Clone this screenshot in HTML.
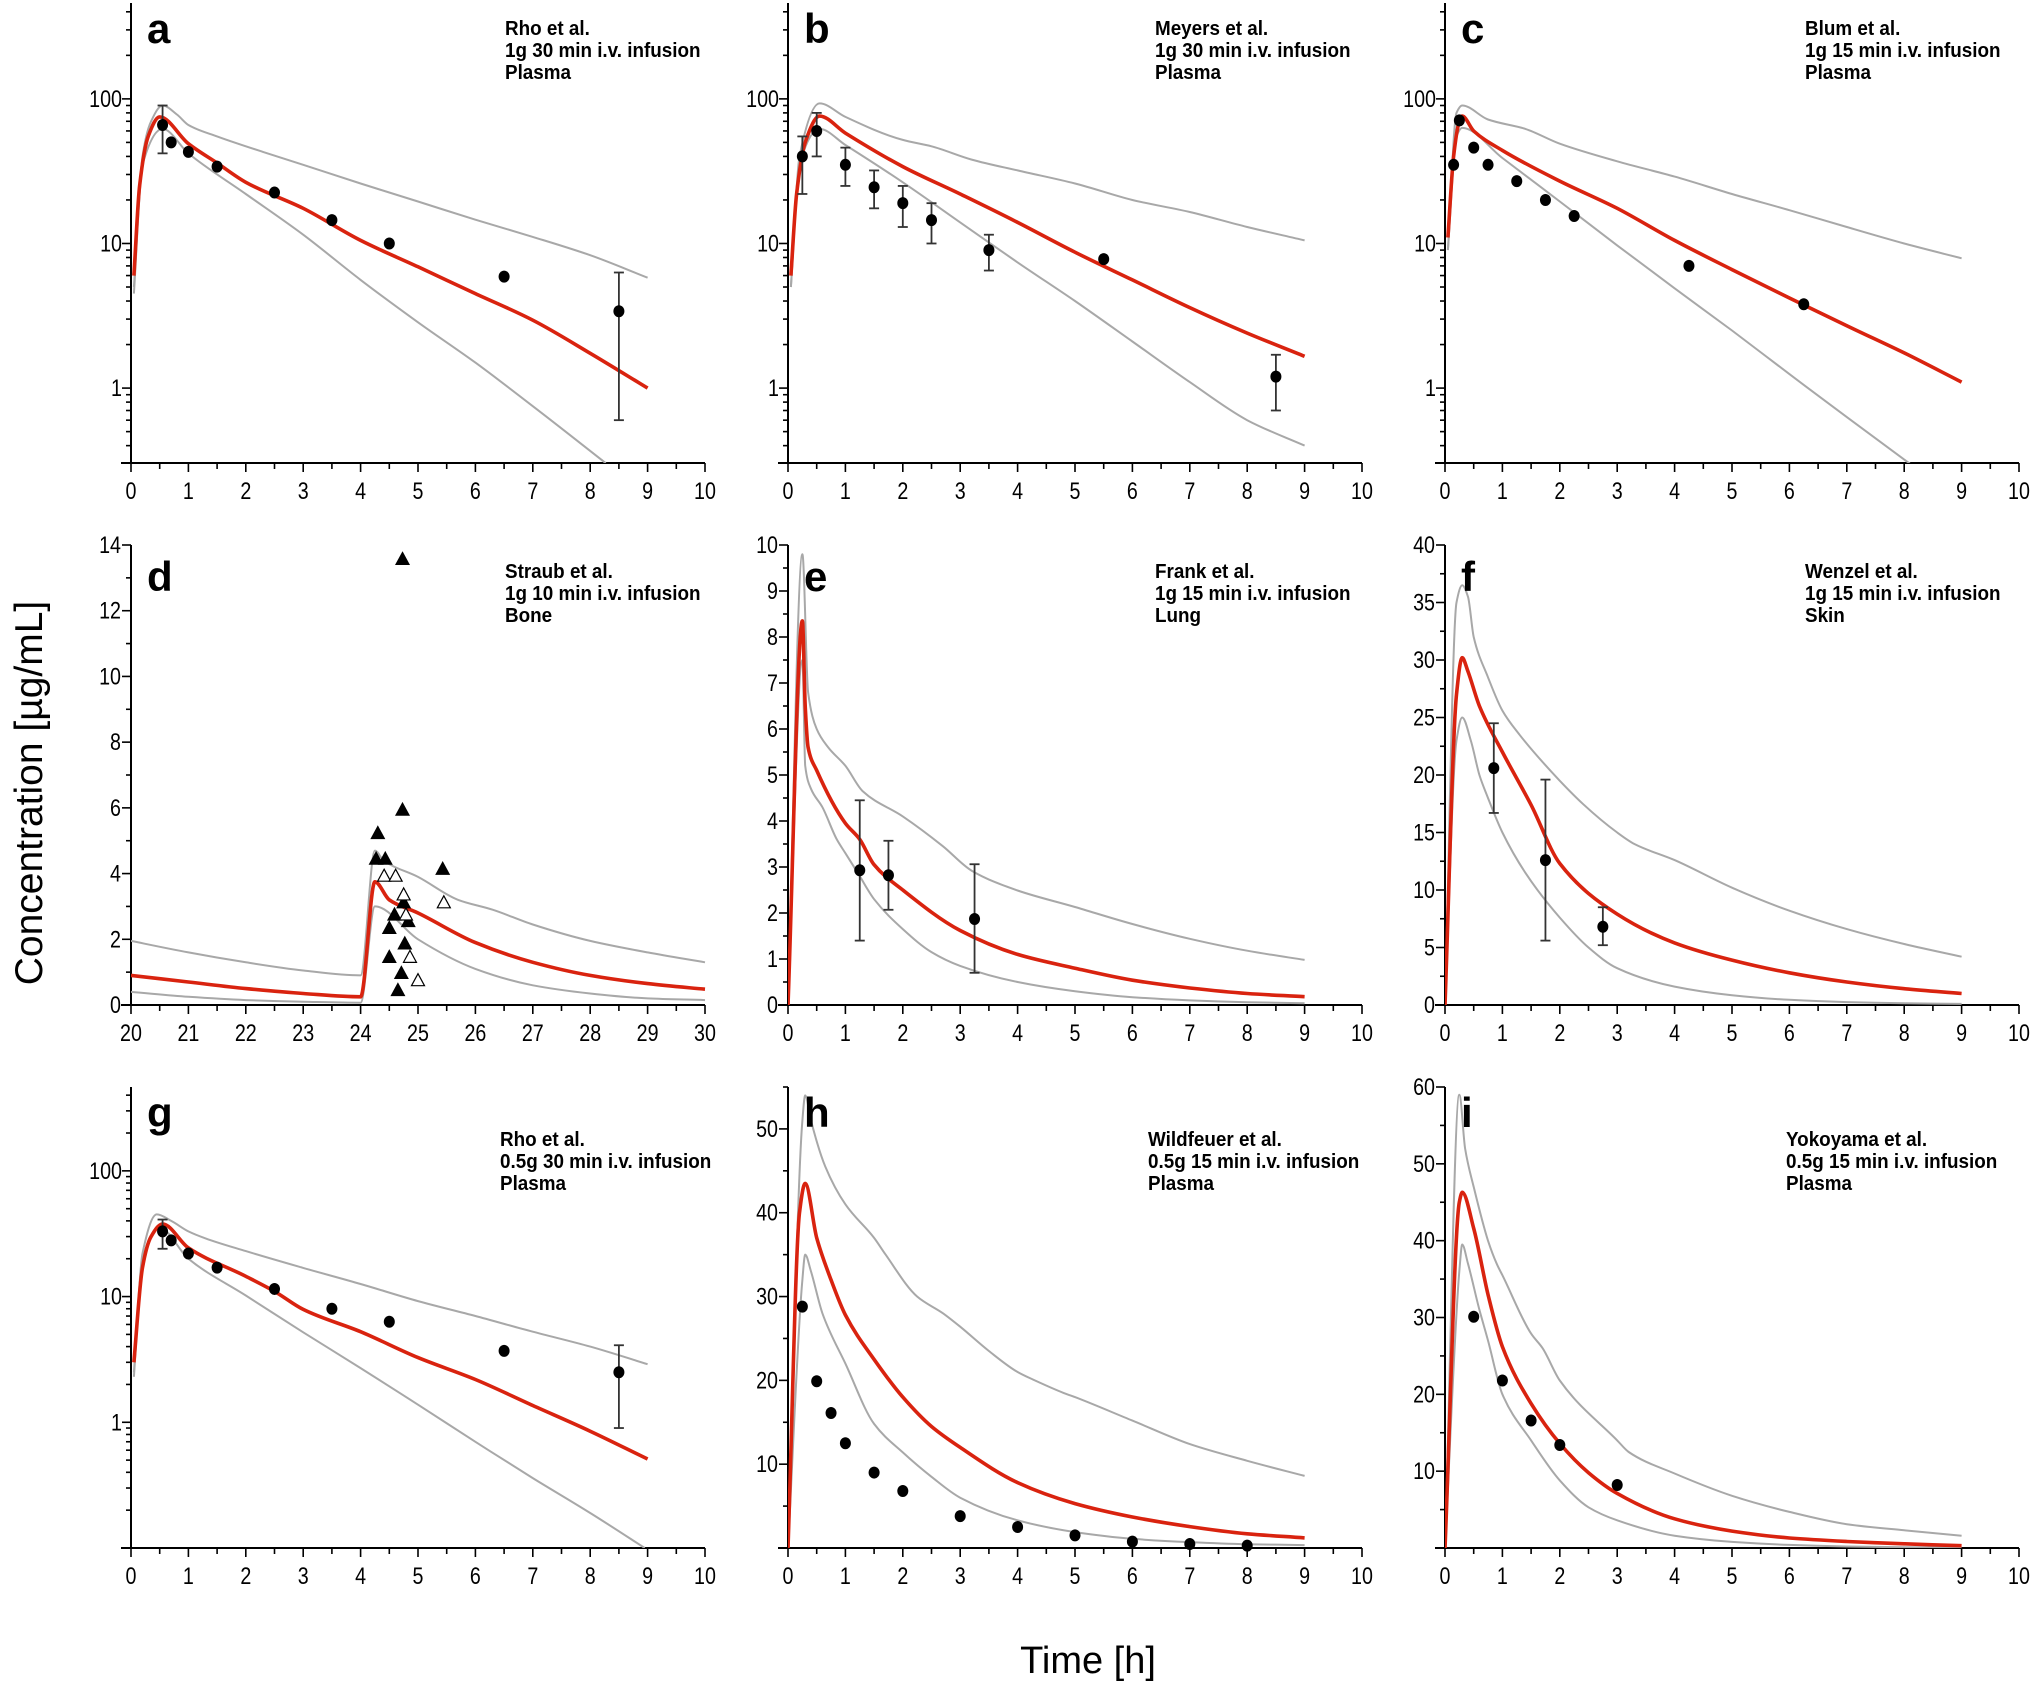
<!DOCTYPE html>
<html><head><meta charset="utf-8"><style>
html,body{margin:0;padding:0;background:#fff;}
svg{display:block;}
</style></head><body>
<svg id="fig" width="2030" height="1685" viewBox="0 0 2030 1685" xmlns="http://www.w3.org/2000/svg">
<rect width="2030" height="1685" fill="#fff"/>
<text transform="translate(42,793) rotate(-90)" text-anchor="middle" font-family="'Liberation Sans',sans-serif" font-size="39">Concentration [µg/mL]</text>
<text x="1088" y="1673" text-anchor="middle" font-family="'Liberation Sans',sans-serif" font-size="38">Time [h]</text>
</svg>
<script>
// ---- panel a ----
const aRed=[[0.05,6],[0.15,25],[0.3,55],[0.5,75],[1,49],[1.5,36],[2,26.5],[3,17.5],[4,10.5],[5,6.9],[6,4.5],[7,2.95],[8,1.74],[9,1.0]];
const aUp=[[0.05,5],[0.2,40],[0.35,70],[0.55,90],[0.8,78],[1,66],[1.5,55],[1.8,50],[2.3,43],[3,35],[4,26],[5,19.5],[6,14.6],[7,11.1],[8,8.3],[9,5.8]];
const aLow=[[0.05,4.5],[0.2,35],[0.55,62],[1,42],[2,22],[3,11.5],[4,5.6],[5,2.85],[6,1.5],[7,0.75],[8.27,0.303]];
const aObs=[[0.55,66,42,90],[0.7,50],[1,43],[1.5,34],[2.5,22.5],[3.5,14.5],[4.5,10],[6.5,5.9],[8.5,3.4,0.6,6.3]];
// ---- panel b ----
const bRed=[[0.05,6],[0.15,22],[0.3,50],[0.55,76],[1,58],[2,34],[3,22],[4,14],[5,8.7],[6,5.6],[7,3.6],[8,2.4],[9,1.66]];
const bUp=[[0.05,5],[0.2,40],[0.55,93],[1,75],[2,52],[2.5,47],[3.2,38],[4,32],[5,26],[6,20],[7,16.5],[8,13],[9,10.5]];
const bLow=[[0.05,5],[0.2,35],[0.55,62],[1,48],[2,26.5],[3,14],[4,7.4],[5,4],[6,2.1],[7,1.1],[8,0.6],[9,0.4]];
const bObs=[[0.25,40,22,55],[0.5,60,40,80],[1,35,25,46],[1.5,24.5,17.5,32],[2,19,13,25],[2.5,14.5,10,19],[3.5,9,6.5,11.5],[5.5,7.8],[8.5,1.2,0.7,1.7]];
// ---- panel c ----
const cRed=[[0.05,11],[0.15,40],[0.25,70],[0.3,76],[0.5,60],[1,44],[2,27],[3,17.5],[4,10.5],[5,6.6],[6,4.2],[7,2.7],[8,1.75],[9,1.1]];
const cUp=[[0.05,9],[0.2,80],[0.3,90],[0.75,72],[1.4,62],[2,49],[3,37],[4,29],[5,22],[6,17],[7,13],[8,10],[9,7.9]];
const cLow=[[0.05,9],[0.2,55],[0.3,63],[1,39],[2,19.5],[3,9.7],[4,4.9],[5,2.5],[6,1.25],[7,0.63],[8.1,0.3]];
const cObs=[[0.15,35],[0.25,71],[0.5,46],[0.75,35],[1.25,27],[1.75,20],[2.25,15.5],[4.25,7],[6.25,3.8]];
// ---- panel d ----
const dRed=[[20,0.9],[21,0.7],[22,0.5],[23,0.35],[24,0.25],[24.25,3.75],[24.5,3.2],[25,2.8],[26,1.9],[27,1.3],[28,0.9],[29,0.65],[30,0.48]];
const dUp=[[20,1.95],[21,1.6],[22,1.3],[23,1.05],[24,0.9],[24.25,4.7],[24.4,4.4],[25,3.9],[25.7,3.2],[26.3,2.9],[27,2.45],[28,1.95],[29,1.6],[30,1.3]];
const dLow=[[20,0.4],[21,0.25],[22,0.15],[23,0.1],[24,0.07],[24.25,3.0],[25,2.0],[26,1.1],[27,0.6],[28,0.35],[29,0.2],[30,0.15]];
const dFilled=[[24.3,5.22],[24.73,13.56],[24.73,5.93],[24.27,4.44],[24.43,4.44],[25.43,4.13],[24.75,3.11],[24.59,2.74],[24.83,2.54],[24.5,2.33],[24.77,1.86],[24.5,1.45],[24.71,0.96],[24.65,0.44]];
const dOpen=[[24.41,3.92],[24.61,3.92],[24.75,3.35],[25.45,3.11],[24.79,2.74],[24.86,1.45],[25.0,0.74]];
// ---- panel e ----
const eRed=[[0,0],[0.25,8.35],[0.3,6.5],[0.35,5.6],[0.5,5.1],[1,3.95],[1.25,3.6],[1.5,3.05],[2,2.5],[3,1.62],[4,1.1],[5,0.8],[6,0.54],[7,0.37],[8,0.25],[9,0.18]];
const eUp=[[0,0],[0.25,9.8],[0.35,6.8],[0.5,6.0],[0.7,5.6],[1,5.2],[1.3,4.65],[2,4.1],[2.7,3.45],[3.2,2.92],[4,2.49],[5,2.13],[6,1.76],[7,1.44],[8,1.18],[9,0.98]];
const eLow=[[0,0],[0.25,7.5],[0.3,5.2],[0.4,4.7],[0.6,4.3],[0.85,3.6],[1,3.3],[1.25,2.8],[1.5,2.3],[2,1.65],[2.5,1.15],[3,0.85],[4,0.5],[5,0.3],[6,0.17],[7,0.1],[8,0.06],[9,0.04]];
const eObs=[[1.25,2.93,1.4,4.45],[1.75,2.82,2.07,3.57],[3.25,1.87,0.7,3.06]];
// ---- panel f ----
const fRed=[[0,0],[0.2,27],[0.3,30.2],[0.4,29],[0.6,26],[1,22],[1.5,17.4],[2,12.3],[3,7.9],[4,5.4],[5,3.9],[6,2.8],[7,2.0],[8,1.42],[9,1.0]];
const fUp=[[0,0],[0.2,35],[0.3,36.5],[0.4,35.5],[0.5,32],[0.75,28.5],[1,25.6],[1.3,23.5],[2,19.5],[2.4,17.5],[3,15],[3.3,14],[4,12.6],[5,10.2],[6,8.2],[7,6.6],[8,5.3],[9,4.2]];
const fLow=[[0,0],[0.2,23],[0.3,25],[0.45,23],[0.6,20],[0.75,18],[1,15],[1.4,11.5],[2,7.6],[2.5,5],[3,3.2],[4,1.6],[5,0.85],[6,0.45],[7,0.25],[8,0.15],[9,0.1]];
const fObs=[[0.85,20.6,16.7,24.5],[1.75,12.6,5.6,19.6],[2.75,6.8,5.2,8.5]];
// ---- panel g ----
const gRed=[[0.05,3],[0.2,17],[0.35,30],[0.55,37.8],[1,24.4],[2,14.5],[2.5,11],[3,7.9],[4,5.25],[5,3.27],[6,2.19],[7,1.36],[8,0.85],[9,0.51]];
const gUp=[[0.05,2.5],[0.2,22],[0.45,45],[0.7,40],[1,33],[1.3,29],[2,23],[3,16.9],[4,12.6],[5,9.2],[6,7],[7,5.25],[8,4],[9,2.9]];
const gLow=[[0.05,2.3],[0.2,20],[0.5,35],[1,20],[2,10.2],[3,5.2],[4,2.7],[5,1.38],[6,0.7],[7,0.36],[8,0.19],[8.95,0.1]];
const gObs=[[0.55,33,24,41],[0.7,28],[1,22],[1.5,17],[2.5,11.5],[3.5,8],[4.5,6.3],[6.5,3.7],[8.5,2.5,0.9,4.1]];
// ---- panel h ----
const hRed=[[0,0],[0.2,40],[0.3,43.5],[0.5,37],[0.75,32],[1,27.8],[1.5,22.5],[2,18],[2.5,14.5],[3,12],[4,7.8],[5,5.3],[6,3.7],[7,2.55],[8,1.7],[9,1.2]];
const hUp=[[0,0],[0.25,51],[0.3,54],[0.4,51],[0.65,45.5],[1,41],[1.5,37],[1.7,35],[2.25,30],[2.7,28],[3,26.4],[3.5,23.5],[4,21],[4.3,20],[4.8,18.5],[5,18],[6,15.2],[7,12.4],[8,10.4],[9,8.6]];
const hLow=[[0,0],[0.25,32],[0.3,35],[0.4,33],[0.6,28],[1,22],[1.5,14.8],[2,11.4],[2.5,8.5],[3,6],[4,3.3],[5,1.9],[6,1.1],[7,0.7],[8,0.45],[9,0.35]];
const hObs=[[0.25,28.8],[0.5,19.9],[0.75,16.1],[1,12.5],[1.5,9.0],[2,6.8],[3,3.8],[4,2.5],[5,1.5],[6,0.76],[7,0.48],[8,0.28]];
// ---- panel i ----
const iRed=[[0,0],[0.25,45],[0.3,46.3],[0.5,41.6],[0.75,33],[1,26.2],[1.5,18.8],[2,13.6],[2.5,9.8],[3,7.1],[4,3.8],[5,2.2],[6,1.3],[7,0.85],[8,0.55],[9,0.3]];
const iUp=[[0,0],[0.25,59],[0.35,52],[0.5,47],[0.75,40],[0.9,37],[1,35.5],[1.5,27.9],[1.7,26],[2,21.8],[3,14],[3.2,12.5],[4,9.7],[5,6.8],[6,4.7],[7,3.1],[8,2.3],[9,1.6]];
const iLow=[[0,0],[0.25,36],[0.3,39.5],[0.4,37],[0.6,31],[0.75,27],[1,20],[1.5,14],[2,8.8],[2.5,5.3],[3,3.6],[4,1.6],[5,0.8],[6,0.4],[7,0.2],[8,0.1],[9,0.05]];
const iObs=[[0.5,30.1],[1,21.8],[1.5,16.6],[2,13.4],[3,8.2]];
// ---- text ----
const annotA=["Rho et al.","1g 30 min i.v. infusion","Plasma"];
const annotB=["Meyers et al.","1g 30 min i.v. infusion","Plasma"];
const annotC=["Blum et al.","1g 15 min i.v. infusion","Plasma"];
const annotD=["Straub et al.","1g 10 min i.v. infusion","Bone"];
const annotE=["Frank et al.","1g 15 min i.v. infusion","Lung"];
const annotF=["Wenzel et al.","1g 15 min i.v. infusion","Skin"];
const annotG=["Rho et al.","0.5g 30 min i.v. infusion","Plasma"];
const annotH=["Wildfeuer et al.","0.5g 15 min i.v. infusion","Plasma"];
const annotI=["Yokoyama et al.","0.5g 15 min i.v. infusion","Plasma"];

const NS="http://www.w3.org/2000/svg";
const svg=document.getElementById('fig');
const FONT="'Liberation Sans',sans-serif";
function mk(tag,attrs,parent){const e=document.createElementNS(NS,tag);for(const k in attrs)e.setAttribute(k,attrs[k]);(parent||svg).appendChild(e);return e;}
function txt(parent,x,y,s,size,anchor,bold,sxs){
  const t=mk('text',{transform:`translate(${x},${y}) scale(${sxs},1)`,'text-anchor':anchor,'font-family':FONT,'font-size':size,fill:'#000',stroke:'none'},parent);
  if(bold)t.setAttribute('font-weight','bold');
  t.textContent=s;return t;
}
function smoothPath(P){
  const n=P.length;if(n<2)return '';
  const dx=[],dy=[],m=[];
  for(let i=0;i<n-1;i++){dx.push(P[i+1][0]-P[i][0]);dy.push(P[i+1][1]-P[i][1]);m.push(dy[i]/dx[i]);}
  const t=[m[0]];
  for(let i=1;i<n-1;i++){ if(m[i-1]*m[i]<=0)t.push(0); else t.push(3*(dx[i-1]+dx[i])/((2*dx[i]+dx[i-1])/m[i-1]+(dx[i]+2*dx[i-1])/m[i])); }
  t.push(m[n-2]);
  let d='M'+P[0][0].toFixed(1)+','+P[0][1].toFixed(1);
  for(let i=0;i<n-1;i++){
    const h=dx[i]/3;
    d+='C'+(P[i][0]+h).toFixed(1)+','+(P[i][1]+t[i]*h).toFixed(1)+' '+(P[i+1][0]-h).toFixed(1)+','+(P[i+1][1]-t[i+1]*h).toFixed(1)+' '+P[i+1][0].toFixed(1)+','+P[i+1][1].toFixed(1);
  }
  return d;
}

const COLS=[131,788,1445], W=574;
const ROWS=[[3,463],[545,1005],[1087,1548]];
const TS=0.82;
let clipId=0;

function panel(p){
  const g=mk('g',{});
  
  
  const x0=COLS[p.col], x1=x0+W, top=ROWS[p.row][0], bot=ROWS[p.row][1];
  const sx=v=>x0+(v-p.xmin)/(p.xmax-p.xmin)*W;
  let sy;
  if(p.log){sy=v=>bot-(Math.log10(Math.max(v,1e-6))-p.lo)/(p.hi-p.lo)*(bot-top);}
  else{sy=v=>bot-(v-p.ymin)/(p.ymax-p.ymin)*(bot-top);}
  const id='clip'+(clipId++);
  const cp=mk('clipPath',{id:id},g);mk('rect',{x:x0,y:top,width:W+2,height:bot-top},cp);
  const ax=mk('g',{stroke:'#000','stroke-width':2,fill:'none'},g);
  
  
  mk('line',{x1:x0,y1:top,x2:x0,y2:bot},ax);
  mk('line',{x1:x0-10,y1:bot,x2:x1,y2:bot},ax);
  for(let v=p.xmin;v<=p.xmax+1e-9;v+=0.5){
    const major=Math.abs(v-Math.round(v))<1e-9;
    const X=sx(v);
    mk('line',{x1:X,y1:bot,x2:X,y2:bot+(major?9:6),'stroke-width':1.6},ax);
    if(major){const t=txt(g,X,bot+36,String(Math.round(v)),24,'middle',false,TS);
      }
  }
  if(p.log){
    for(let e=Math.floor(p.lo);e<=Math.ceil(p.hi);e++){
      for(let k=1;k<10;k++){
        const v=k*Math.pow(10,e);const L=Math.log10(v);
        if(L<p.lo-1e-6||L>p.hi+1e-6)continue;
        const Y=sy(v);
        mk('line',{x1:x0,y1:Y,x2:x0-(k===1?9:5),y2:Y,'stroke-width':1.6},ax);
        if(k===1&&p.ylabels.indexOf(v)>=0){const t=txt(g,x0-9,Y+8,String(v),24,'end',false,TS);
          }
      }
    }
  } else {
    for(let v=p.ymin;v<=p.ymax+1e-9;v+=p.minor){
      const major=Math.abs(v/p.major-Math.round(v/p.major))<1e-9;
      const Y=sy(v);
      mk('line',{x1:x0,y1:Y,x2:x0-(major?9:5),y2:Y,'stroke-width':1.6},ax);
      if(major&&(p.showZero||v!==0)){const t=txt(g,x0-10,Y+8,String(Math.round(v)),24,'end',false,TS);
        }
    }
  }
  const cg=mk('g',{'clip-path':'url(#'+id+')',fill:'none'},g);
  function line(arr,color,w,name){
    const P=arr.map(pt=>[sx(pt[0]),sy(pt[1])]);
    const el=mk('path',{d:smoothPath(P),stroke:color,'stroke-width':w,'stroke-linejoin':'round'},cg);
    
    
  }
  line(p.up,'#a8a8a8',2,'upper-percentile-line');
  line(p.low,'#a8a8a8',2,'lower-percentile-line');
  line(p.red,'#d9230f',3.6,'median-prediction-line');
  if(p.obs){
    p.obs.forEach(o=>{
      const X=sx(o[0]);
      if(o.length>2){
        const eg=mk('g',{stroke:'#333','stroke-width':1.8},g);
        
        
        mk('line',{x1:X,y1:sy(o[2]),x2:X,y2:sy(o[3])},eg);
        mk('line',{x1:X-5,y1:sy(o[2]),x2:X+5,y2:sy(o[2])},eg);
        mk('line',{x1:X-5,y1:sy(o[3]),x2:X+5,y2:sy(o[3])},eg);
      }
      const c=mk('ellipse',{cx:X,cy:sy(o[1]),rx:5.5,ry:6,fill:'#000'},g);
      
      
    });
  }
  function tri(arr,fill,name){
    arr.forEach(o=>{const X=sx(o[0]),Y=sy(o[1]);
      const t=mk('polygon',{points:`${X},${Y-7} ${X+6.5},${Y+5} ${X-6.5},${Y+5}`,fill:fill,stroke:'#000','stroke-width':1.2},g);
      
      });
  }
  if(p.filled)tri(p.filled,'#000','observed-triangle-filled');
  if(p.open)tri(p.open,'#fff','observed-triangle-open');
  const L=mk('text',{x:x0+16,y:top+p.letY,'font-family':FONT,'font-size':42,'font-weight':'bold',fill:'#000'},g);
  L.textContent=p.letter;
  
  
  p.annot.forEach((s,i)=>{const t=txt(g,p.ax,top+p.annY+i*22,s,20.5,'start',true,0.92);
    });
}

const LOG1={log:true,lo:-0.518,hi:2.663,ylabels:[1,10,100]};
const LOG3={log:true,lo:-1,hi:2.667,ylabels:[1,10,100]};
panel(Object.assign({letter:'a',col:0,row:0,xmin:0,xmax:10,red:aRed,up:aUp,low:aLow,obs:aObs,annot:annotA,ax:505,annY:32,letY:40},LOG1));
panel(Object.assign({letter:'b',col:1,row:0,xmin:0,xmax:10,red:bRed,up:bUp,low:bLow,obs:bObs,annot:annotB,ax:1155,annY:32,letY:40},LOG1));
panel(Object.assign({letter:'c',col:2,row:0,xmin:0,xmax:10,red:cRed,up:cUp,low:cLow,obs:cObs,annot:annotC,ax:1805,annY:32,letY:40},LOG1));
panel({letter:'d',col:0,row:1,xmin:20,xmax:30,ymin:0,ymax:14,major:2,minor:1,showZero:true,red:dRed,up:dUp,low:dLow,filled:dFilled,open:dOpen,annot:annotD,ax:505,annY:33,letY:46});
panel({letter:'e',col:1,row:1,xmin:0,xmax:10,ymin:0,ymax:10,major:1,minor:0.5,showZero:true,red:eRed,up:eUp,low:eLow,obs:eObs,annot:annotE,ax:1155,annY:33,letY:46});
panel({letter:'f',col:2,row:1,xmin:0,xmax:10,ymin:0,ymax:40,major:5,minor:2.5,showZero:true,red:fRed,up:fUp,low:fLow,obs:fObs,annot:annotF,ax:1805,annY:33,letY:46});
panel(Object.assign({letter:'g',col:0,row:2,xmin:0,xmax:10,red:gRed,up:gUp,low:gLow,obs:gObs,annot:annotG,ax:500,annY:59,letY:40},LOG3));
panel({letter:'h',col:1,row:2,xmin:0,xmax:10,ymin:0,ymax:55,major:10,minor:5,showZero:false,red:hRed,up:hUp,low:hLow,obs:hObs,annot:annotH,ax:1148,annY:59,letY:40});
panel({letter:'i',col:2,row:2,xmin:0,xmax:10,ymin:0,ymax:60,major:10,minor:5,showZero:false,red:iRed,up:iUp,low:iLow,obs:iObs,annot:annotI,ax:1786,annY:59,letY:40});
</script>
</body></html>
